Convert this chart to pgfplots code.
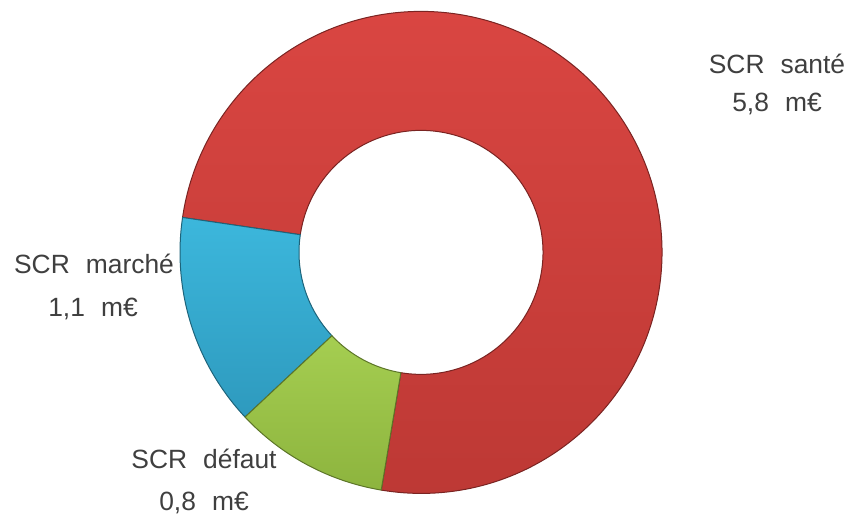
\documentclass[border=0pt]{standalone}
\usepackage{pgfplots}
\pgfplotsset{compat=1.18}
\usepackage{pgfplotstable}
\usepackage{fontspec}
\setmainfont{Liberation Sans}
\definecolor{redT}{HTML}{DA4642}
\definecolor{redB}{HTML}{BC3834}
\definecolor{bluT}{HTML}{3CB7DC}
\definecolor{bluB}{HTML}{2E9ABE}
\definecolor{grnT}{HTML}{A5CE51}
\definecolor{grnB}{HTML}{8DB43E}
\definecolor{txt}{HTML}{3F3F3F}
\pgfplotstableread{
label value
sante 5.8
marche 1.1
defaut 0.8
}\donutdata
\begin{document}
\begin{tikzpicture}
\pgfplotstablegetelem{0}{value}\of\donutdata \let\vA\pgfplotsretval
\pgfplotstablegetelem{1}{value}\of\donutdata \let\vB\pgfplotsretval
\pgfplotstablegetelem{2}{value}\of\donutdata \let\vC\pgfplotsretval
\pgfmathsetmacro\tot{\vA+\vB+\vC}
\pgfmathsetmacro\aS{-99.5}
\pgfmathsetmacro\aA{\aS+360*\vA/\tot}
\pgfmathsetmacro\aB{\aA+360*\vB/\tot}
\pgfmathsetmacro\aC{\aB+360*\vC/\tot}
\begin{axis}[x=0.5pt,y=0.5pt,xmin=0,xmax=849,ymin=0,ymax=513,
  hide axis,scale only axis,disabledatascaling,clip=false]
\path (axis cs:0,0) rectangle (axis cs:849,513);
\coordinate (C) at (axis cs:421,262);
\path[top color=redT,bottom color=redB,draw=redB!65!black,line width=0.5pt]
  ([shift={(\aS:120.5pt)}]C) arc[start angle=\aS,end angle=\aA,radius=120.5pt]
  -- ([shift={(\aA:61pt)}]C) arc[start angle=\aA,end angle=\aS,radius=61pt] -- cycle;
\path[top color=bluT,bottom color=bluB,draw=bluB!65!black,line width=0.5pt]
  ([shift={(\aA:120.5pt)}]C) arc[start angle=\aA,end angle=\aB,radius=120.5pt]
  -- ([shift={(\aB:61pt)}]C) arc[start angle=\aB,end angle=\aA,radius=61pt] -- cycle;
\path[top color=grnT,bottom color=grnB,draw=grnB!65!black,line width=0.5pt]
  ([shift={(\aB:120.5pt)}]C) arc[start angle=\aB,end angle=\aC,radius=120.5pt]
  -- ([shift={(\aC:61pt)}]C) arc[start angle=\aC,end angle=\aB,radius=61pt] -- cycle;
\tikzset{lbl/.style={text=txt,font=\fontsize{13.2}{15}\selectfont,inner sep=0pt}}
\node[lbl] at (axis cs:777,450) {SCR\hspace{0.33em} santé};
\node[lbl] at (axis cs:777,410) {5,8\hspace{0.33em} m€};
\node[lbl] at (axis cs:94,250) {SCR\hspace{0.33em} marché};
\node[lbl] at (axis cs:93,205) {1,1\hspace{0.33em} m€};
\node[lbl] at (axis cs:204,55) {SCR\hspace{0.33em} défaut};
\node[lbl] at (axis cs:204,11) {0,8\hspace{0.33em} m€};
\end{axis}
\end{tikzpicture}
\end{document}
